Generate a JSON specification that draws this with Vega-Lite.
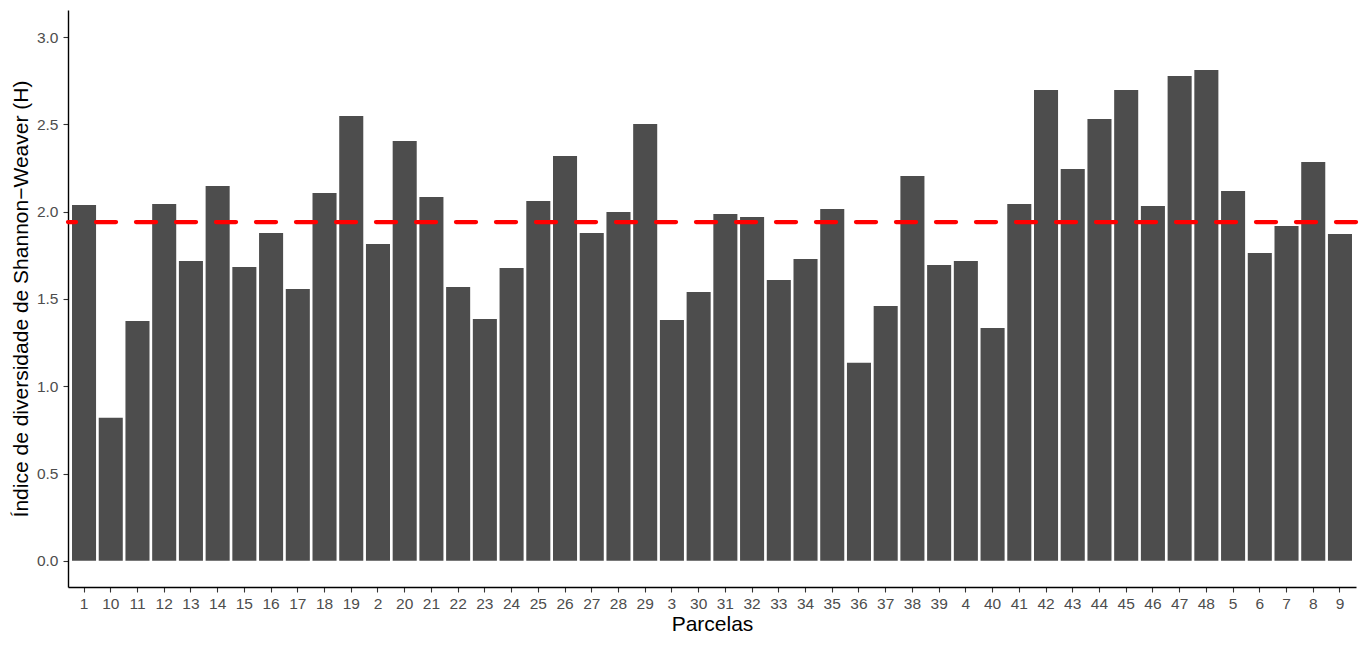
{
  "$schema": "https://vega.github.io/schema/vega-lite/v6.json",
  "width": 1288,
  "height": 577,
  "autosize": {"type": "none"},
  "padding": {"left": 68, "top": 10, "right": 9, "bottom": 60},
  "background": "white",
  "config": {
    "font": "Liberation Sans",
    "view": {"stroke": null}
  },
  "datasets": {
    "bars": [
      {"parcela": "1", "H": 2.038},
      {"parcela": "10", "H": 0.819},
      {"parcela": "11", "H": 1.374},
      {"parcela": "12", "H": 2.044},
      {"parcela": "13", "H": 1.718},
      {"parcela": "14", "H": 2.147},
      {"parcela": "15", "H": 1.683},
      {"parcela": "16", "H": 1.878},
      {"parcela": "17", "H": 1.557},
      {"parcela": "18", "H": 2.107},
      {"parcela": "19", "H": 2.548},
      {"parcela": "2", "H": 1.815},
      {"parcela": "20", "H": 2.405},
      {"parcela": "21", "H": 2.084},
      {"parcela": "22", "H": 1.569},
      {"parcela": "23", "H": 1.385},
      {"parcela": "24", "H": 1.677},
      {"parcela": "25", "H": 2.061},
      {"parcela": "26", "H": 2.319},
      {"parcela": "27", "H": 1.878},
      {"parcela": "28", "H": 1.998},
      {"parcela": "29", "H": 2.502},
      {"parcela": "3", "H": 1.380},
      {"parcela": "30", "H": 1.540},
      {"parcela": "31", "H": 1.987},
      {"parcela": "32", "H": 1.969},
      {"parcela": "33", "H": 1.609},
      {"parcela": "34", "H": 1.729},
      {"parcela": "35", "H": 2.015},
      {"parcela": "36", "H": 1.134},
      {"parcela": "37", "H": 1.460},
      {"parcela": "38", "H": 2.204},
      {"parcela": "39", "H": 1.695},
      {"parcela": "4", "H": 1.718},
      {"parcela": "40", "H": 1.334},
      {"parcela": "41", "H": 2.044},
      {"parcela": "42", "H": 2.697},
      {"parcela": "43", "H": 2.244},
      {"parcela": "44", "H": 2.530},
      {"parcela": "45", "H": 2.697},
      {"parcela": "46", "H": 2.032},
      {"parcela": "47", "H": 2.777},
      {"parcela": "48", "H": 2.811},
      {"parcela": "5", "H": 2.118},
      {"parcela": "6", "H": 1.763},
      {"parcela": "7", "H": 1.918},
      {"parcela": "8", "H": 2.284},
      {"parcela": "9", "H": 1.872}
    ],
    "mean": [{"media": 1.94}]
  },
  "layer": [
    {
      "data": {"name": "bars"},
      "mark": {"type": "bar", "color": "#4D4D4D"},
      "encoding": {
        "x": {
          "field": "parcela",
          "type": "nominal",
          "sort": null,
          "title": "Parcelas",
          "scale": {"paddingInner": 0.1, "paddingOuter": 0.15},
          "axis": {
            "labelAngle": 0,
            "labelFontSize": 15.5,
            "labelColor": "#4D4D4D",
            "labelPadding": 4,
            "tickColor": "#333333",
            "tickSize": 5,
            "tickWidth": 1.1,
            "domainColor": "black",
            "domainWidth": 1.4,
            "titleFontSize": 21,
            "titleFontWeight": "normal",
            "titleColor": "black",
            "titlePadding": 2
          }
        },
        "y": {
          "field": "H",
          "type": "quantitative",
          "title": "Índice de diversidade de Shannon−Weaver (H)",
          "scale": {"domain": [-0.15, 3.155], "nice": false, "zero": false},
          "axis": {
            "values": [0, 0.5, 1, 1.5, 2, 2.5, 3],
            "format": ".1f",
            "grid": false,
            "labelFontSize": 15.5,
            "labelColor": "#4D4D4D",
            "labelPadding": 5,
            "tickColor": "#333333",
            "tickSize": 5,
            "tickWidth": 1.1,
            "domainColor": "black",
            "domainWidth": 1.4,
            "titleFontSize": 21,
            "titleFontWeight": "normal",
            "titleColor": "black",
            "titlePadding": 5
          }
        }
      }
    },
    {
      "data": {"name": "mean"},
      "mark": {"type": "rule", "color": "#FF0000", "strokeWidth": 4.3, "strokeDash": [20, 20], "strokeCap": "round"},
      "encoding": {
        "y": {"field": "media", "type": "quantitative"}
      }
    }
  ]
}
